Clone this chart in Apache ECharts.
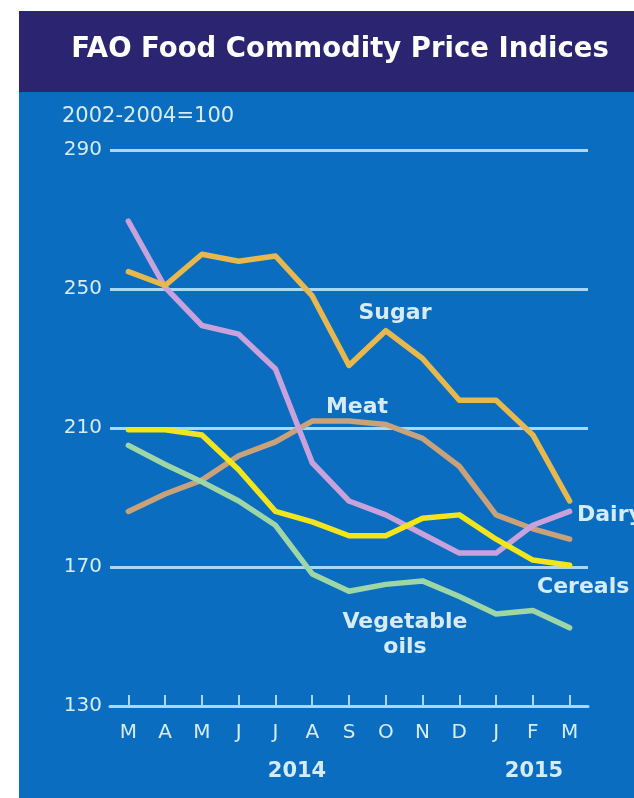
<!DOCTYPE html>
<html><head><meta charset="utf-8">
<script src="https://cdn.jsdelivr.net/npm/echarts@6/dist/echarts.min.js"></script>
<style>html,body{margin:0;padding:0;background:#fff}#c{width:634px;height:798px}</style>
</head><body><div id="c"></div>
<script>
const months = ['M','A','M','J','J','A','S','O','N','D','J','F','M'];
const yearLabels = ['2014','2015'];
const sugar = [255, 251, 260, 258, 259.5, 248, 228, 238, 230, 218, 218, 208, 189];
const meat = [186, 191, 195, 202, 206, 212, 212, 211, 207, 199, 185, 181, 178];
const dairy = [269.5, 250.5, 239.5, 237, 227, 200, 189, 185, 179.5, 174, 174, 182, 186];
const cereals = [209.5, 209.5, 208, 198, 186, 183, 179, 179, 184, 185, 178, 172, 170.5];
const vegOils = [205, 199.5, 194.5, 189, 182, 168, 163, 165, 166, 161.5, 156.5, 157.5, 152.5];

const chart = echarts.init(document.getElementById('c'), null, {renderer:'canvas'});
const labelColor = '#d6ebfa';
const txtFont = 'DejaVu Sans';
function line(name, data, color) {
  return {name, type:'line', data, symbol:'none', smooth:false,
    lineStyle:{color, width:5.5, cap:'round', join:'round'}, z:3};
}
chart.setOption({
  backgroundColor:'#ffffff',
  animation:false,
  grid:{left:110, right:46, top:150, bottom:92},
  xAxis:{type:'category', data:months, boundaryGap:true,
    axisLine:{show:true, lineStyle:{color:'#a9d7f5', width:3}},
    axisTick:{show:true, inside:true, alignWithLabel:true, length:11, lineStyle:{color:'#a9d7f5', width:2}},
    axisLabel:{color:labelColor, fontSize:20, fontFamily:txtFont, margin:17}},
  yAxis:{type:'value', min:130, max:290, interval:40,
    axisLine:{show:false}, axisTick:{show:false},
    splitLine:{lineStyle:{color:'#a9d7f5', width:3}},
    axisLabel:{color:labelColor, fontSize:20, fontFamily:txtFont, margin:8}},
  graphic:[
    {type:'rect', z:-10, shape:{x:19, y:11, width:615, height:81}, style:{fill:'#2b2470'}},
    {type:'rect', z:-10, shape:{x:19, y:92, width:615, height:706}, style:{fill:'#0b6dbf'}},
    {type:'text', z:10, style:{text:'FAO Food Commodity Price Indices', x:340, y:50, textAlign:'center', textVerticalAlign:'middle', fill:'#ffffff', font:'bold 27.5px "DejaVu Sans"'}},
    {type:'text', z:10, style:{text:'2002-2004=100', x:62, y:117, textVerticalAlign:'middle', fill:labelColor, font:'21px "DejaVu Sans"'}},
    {type:'text', z:10, style:{text:yearLabels[0], x:297, y:772, textAlign:'center', textVerticalAlign:'middle', fill:labelColor, font:'bold 21px "DejaVu Sans"'}},
    {type:'text', z:10, style:{text:yearLabels[1], x:534, y:772, textAlign:'center', textVerticalAlign:'middle', fill:labelColor, font:'bold 21px "DejaVu Sans"'}},
    {type:'text', z:10, style:{text:'Sugar', x:395, y:313, textAlign:'center', textVerticalAlign:'middle', fill:labelColor, font:'bold 22px "DejaVu Sans"'}},
    {type:'text', z:10, style:{text:'Meat', x:357, y:407, textAlign:'center', textVerticalAlign:'middle', fill:labelColor, font:'bold 22px "DejaVu Sans"'}},
    {type:'text', z:10, style:{text:'Dairy', x:577, y:515, textVerticalAlign:'middle', fill:labelColor, font:'bold 22px "DejaVu Sans"'}},
    {type:'text', z:10, style:{text:'Cereals', x:537, y:587, textVerticalAlign:'middle', fill:labelColor, font:'bold 22px "DejaVu Sans"'}},
    {type:'text', z:10, style:{text:'Vegetable', x:405, y:622, textAlign:'center', textVerticalAlign:'middle', fill:labelColor, font:'bold 22px "DejaVu Sans"'}},
    {type:'text', z:10, style:{text:'oils', x:405, y:647, textAlign:'center', textVerticalAlign:'middle', fill:labelColor, font:'bold 22px "DejaVu Sans"'}}
  ],
  series:[
    line('Meat', meat, '#c9a27a'),
    line('Vegetable oils', vegOils, '#9fd6a6'),
    line('Dairy', dairy, '#c9a2dc'),
    line('Cereals', cereals, '#f3e51c'),
    line('Sugar', sugar, '#e9b84c')
  ]
});
</script></body></html>
